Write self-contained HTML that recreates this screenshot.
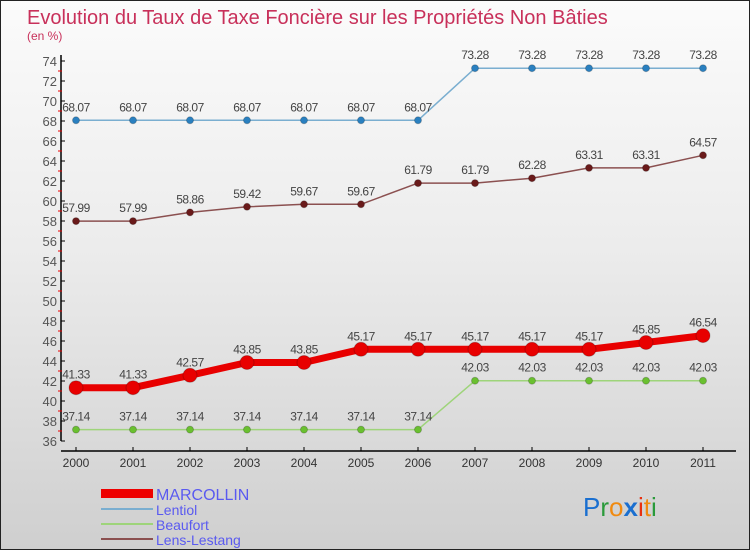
<!DOCTYPE html>
<html><head><meta charset="utf-8"><style>
html,body{margin:0;padding:0}
body{width:750px;height:550px;overflow:hidden;font-family:"Liberation Sans",sans-serif}
#wrap{position:relative;width:748px;height:548px;border:1px solid #222;background:linear-gradient(#fbfbfb,#ececec 45%,#cfcfcf)}
</style></head><body>
<div id="wrap">
<svg id="chart" width="748" height="548" style="position:absolute;left:0;top:0">
<text x="26" y="23" font-size="20" fill="#c8305a">Evolution du Taux de Taxe Foncière sur les Propriétés Non Bâties</text>
<text x="26" y="39" font-size="12" fill="#c8305a">(en %)</text>
<g id="axes"></g><g id="series"></g>
<g>
<rect x="100" y="488" width="52" height="9" fill="#e00"/>
<text x="155" y="499" font-size="16" fill="#5a5af0">MARCOLLIN</text>
<rect x="100" y="507" width="52" height="2" fill="#7aaed0"/>
<text x="155" y="514" font-size="14" fill="#5a5af0">Lentiol</text>
<rect x="100" y="522" width="52" height="2" fill="#9ed47a"/>
<text x="155" y="529" font-size="14" fill="#5a5af0">Beaufort</text>
<rect x="100" y="537" width="52" height="2" fill="#8b5050"/>
<text x="155" y="544" font-size="14" fill="#5a5af0">Lens-Lestang</text>
</g>
<g font-size="26" font-family="'Liberation Sans',sans-serif">
<text x="582" y="515"><tspan fill="#1a6fd0">P</tspan><tspan fill="#2a9a3a">r</tspan><tspan fill="#f08a10">o</tspan><tspan fill="#1a6fd0" font-weight="bold">x</tspan><tspan fill="#e83010">i</tspan><tspan fill="#f08a10">t</tspan><tspan fill="#2a9a3a">i</tspan></text>
</g>
</svg>
</div>
<script>
const years=[2000,2001,2002,2003,2004,2005,2006,2007,2008,2009,2010,2011];
const yTicks=[36,38,40,42,44,46,48,50,52,54,56,58,60,62,64,66,68,70,72,74];
const marcollin=[41.33,41.33,42.57,43.85,43.85,45.17,45.17,45.17,45.17,45.17,45.85,46.54];
const lentiol=[68.07,68.07,68.07,68.07,68.07,68.07,68.07,73.28,73.28,73.28,73.28,73.28];
const beaufort=[37.14,37.14,37.14,37.14,37.14,37.14,37.14,42.03,42.03,42.03,42.03,42.03];
const lensLestang=[57.99,57.99,58.86,59.42,59.67,59.67,61.79,61.79,62.28,63.31,63.31,64.57];
const NS="http://www.w3.org/2000/svg";
const xS=i=>75+i*57;
const yS=v=>60+(74-v)*10;
function mk(tag,attrs,parent){const e=document.createElementNS(NS,tag);for(const k in attrs)e.setAttribute(k,attrs[k]);parent.appendChild(e);return e;}
const ax=document.getElementById('axes');
let l=mk('line',{x1:60,y1:yS(74)-6,x2:60,y2:yS(36),stroke:'#000','stroke-width':1.5},ax);


yTicks.forEach(v=>{
  mk('line',{x1:60,y1:yS(v),x2:64,y2:yS(v),stroke:'#000'},ax);
  if(v<74) mk('line',{x1:57,y1:yS(v+1),x2:61,y2:yS(v+1),stroke:'#e00'},ax);
  const t=mk('text',{x:56,y:yS(v)+5,'text-anchor':'end','font-size':13,fill:'#555'},ax);
  t.textContent=v;
  
  
});
l=mk('line',{x1:60,y1:450,x2:735,y2:450,stroke:'#000','stroke-width':1.5},ax);


years.forEach((y,i)=>{
  mk('line',{x1:xS(i),y1:446,x2:xS(i),y2:450,stroke:'#000'},ax);
  const t=mk('text',{x:xS(i),y:466,'text-anchor':'middle','font-size':12,fill:'#333'},ax);
  t.textContent=y;
  
  
});
const sg=document.getElementById('series');
function series(name,data,color,w,r,fill){
  const g=mk('g',{},sg);
  
  
  const p=mk('polyline',{points:data.map((v,i)=>xS(i)+','+yS(v)).join(' '),fill:'none',stroke:color,'stroke-width':w,'stroke-linejoin':'round'},g);
  
  
  data.forEach((v,i)=>{
    const c=mk('circle',{cx:xS(i),cy:yS(v),r:r,fill:fill,stroke:'rgba(0,0,0,0.2)'},g);
    
    
    const t=mk('text',{x:xS(i),y:yS(v)-9,'text-anchor':'middle','font-size':12,fill:'#444','letter-spacing':'-0.5'},g);
    t.textContent=v.toFixed(2);
    
    
  });
}
series('lentiol',lentiol,'#7aaed0',1.5,3.5,'#2a80c0');
series('lens-lestang',lensLestang,'#8b5050',1.5,3.5,'#6a1a1a');
series('beaufort',beaufort,'#9ed47a',1.5,3.5,'#6ac030');
series('marcollin',marcollin,'#e80000',7,7,'#e80000');
</script>
</body></html>
